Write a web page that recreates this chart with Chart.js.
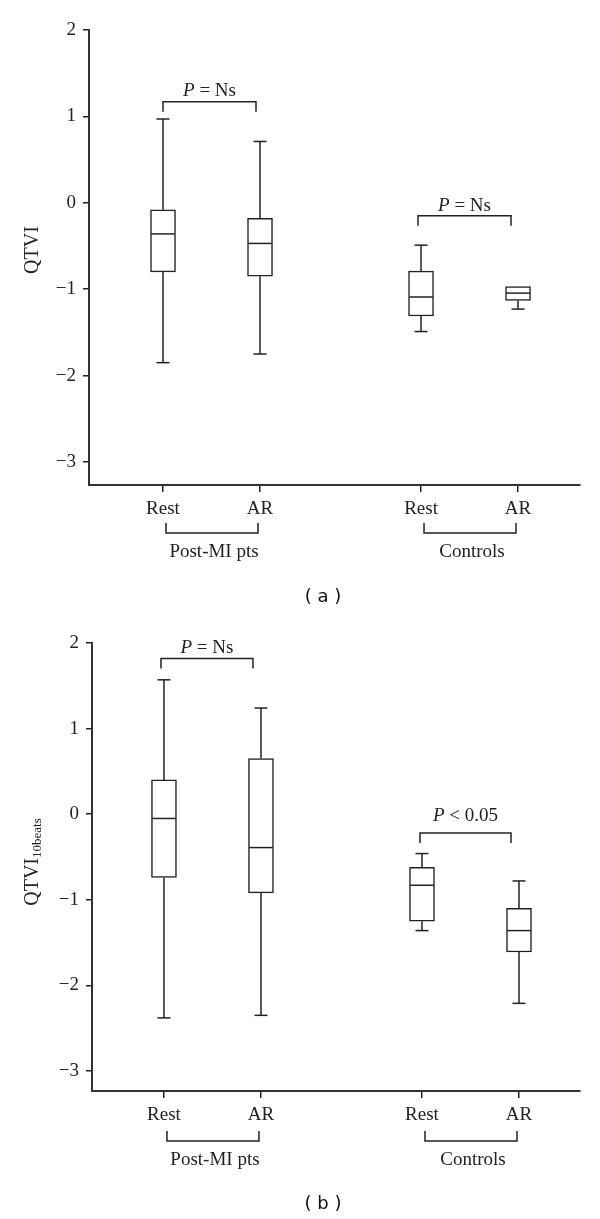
<!DOCTYPE html>
<html><head><meta charset="utf-8">
<script src="https://cdn.jsdelivr.net/npm/chart.js@4"></script>
<style>
html,body{margin:0;padding:0;background:#fff;width:600px;height:1219px;overflow:hidden}
canvas{position:absolute;left:0}
#ca{top:0}
#cb{top:610px}
</style></head><body>
<canvas id="ca" width="600" height="610"></canvas>
<canvas id="cb" width="600" height="609"></canvas>
<script>
// ---------- data ----------
const categories = ['Rest', 'AR', 'Rest', 'AR'];
const groups = ['Post-MI pts', 'Controls'];
const yTicks = [-3, -2, -1, 0, 1, 2];

// (a) QTVI
const qtviMin = [-1.85, -1.75, -1.49, -1.23];
const qtviQ1  = [-0.80, -0.85, -1.31, -1.13];
const qtviMed = [-0.36, -0.47, -1.09, -1.045];
const qtviQ3  = [-0.08, -0.18, -0.79, -0.97];
const qtviMax = [0.97, 0.71, -0.49, -0.97];

// (b) QTVI 10 beats
const qtvi10Min = [-2.38, -2.35, -1.36, -2.21];
const qtvi10Q1  = [-0.74, -0.92, -1.25, -1.61];
const qtvi10Med = [-0.05, -0.39, -0.83, -1.36];
const qtvi10Q3  = [0.40, 0.65, -0.62, -1.10];
const qtvi10Max = [1.57, 1.24, -0.46, -0.78];

const pTextA = ['= Ns', '= Ns'];
const pTextB = ['= Ns', '< 0.05'];
const panelLabels = ['( a )', '( b )'];

// ---------- layout / style ----------
const INK = '#222';
const SERIF = '"Liberation Serif", "Times New Roman", serif';
const GROUP_GAP = 0.66;
const xPos = i => i + 1 + (i >= 2 ? GROUP_GAP : 0);

function line(ctx, pts) {
  ctx.beginPath();
  ctx.moveTo(pts[0][0], pts[0][1]);
  for (let k = 1; k < pts.length; k++) ctx.lineTo(pts[k][0], pts[k][1]);
  ctx.stroke();
}

const extras = {
  id: 'extras',
  afterDatasetsDraw(chart, args, o) {
    const ctx = chart.ctx, xs = chart.scales.x, ys = chart.scales.y;
    const meta = chart.getDatasetMeta(0);
    ctx.save();
    ctx.strokeStyle = INK; ctx.lineWidth = 1.5; ctx.lineCap = 'butt';
    o.stats.min.forEach((mn, i) => {
      const px = xs.getPixelForValue(xPos(i));
      const half = meta.data[i].width / 2;
      const yMin = ys.getPixelForValue(mn), yMax = ys.getPixelForValue(o.stats.max[i]);
      const yQ1 = ys.getPixelForValue(o.stats.q1[i]), yQ3 = ys.getPixelForValue(o.stats.q3[i]);
      const yMed = ys.getPixelForValue(o.stats.med[i]);
      if (o.stats.max[i] > o.stats.q3[i]) {
        line(ctx, [[px, yQ3], [px, yMax]]);
        line(ctx, [[px - 6.5, yMax], [px + 6.5, yMax]]);
      }
      if (mn < o.stats.q1[i]) {
        line(ctx, [[px, yQ1], [px, yMin]]);
        line(ctx, [[px - 6.5, yMin], [px + 6.5, yMin]]);
      }
      line(ctx, [[px - half + 0.7, yMed], [px + half - 0.7, yMed]]);
    });
    ctx.restore();
  },
  afterDraw(chart, args, o) {
    const ctx = chart.ctx, xs = chart.scales.x, ys = chart.scales.y, ca = chart.chartArea;
    ctx.save();
    ctx.strokeStyle = INK; ctx.fillStyle = INK; ctx.lineWidth = 1.5;
    ctx.textBaseline = 'alphabetic';
    // significance brackets
    o.brackets.forEach(b => {
      const x1 = xs.getPixelForValue(xPos(b.from)) + b.dx1;
      const x2 = xs.getPixelForValue(xPos(b.to)) + b.dx2;
      const yy = ys.getPixelForValue(b.y);
      line(ctx, [[x1, yy + 10], [x1, yy], [x2, yy], [x2, yy + 10]]);
      const fontI = 'italic 19px ' + SERIF, fontR = '19px ' + SERIF;
      ctx.font = fontI; const wP = ctx.measureText('P').width;
      ctx.font = fontR; const wR = ctx.measureText(' ' + b.text).width;
      let sx = (x1 + x2) / 2 - (wP + wR) / 2;
      const base = yy - b.gap + 6.3;
      ctx.textAlign = 'left';
      ctx.font = fontI; ctx.fillText('P', sx, base);
      ctx.font = fontR; ctx.fillText(' ' + b.text, sx + wP, base);
    });
    // group brackets under axis
    [[0, 1], [2, 3]].forEach((pair, g) => {
      const x1 = xs.getPixelForValue(xPos(pair[0])) + 3;
      const x2 = xs.getPixelForValue(xPos(pair[1])) - 2;
      const yy = ca.bottom + o.groupY;
      line(ctx, [[x1, yy - 10], [x1, yy], [x2, yy], [x2, yy - 10]]);
      ctx.font = '19px ' + SERIF; ctx.textAlign = 'center';
      ctx.fillText(groups[g], (x1 + x2) / 2 + 2, ca.bottom + o.groupY + 18 + 6.3);
    });
    // y title
    ctx.save();
    ctx.translate(o.titleX, o.titleY);
    ctx.rotate(-Math.PI / 2);
    ctx.font = '20px ' + SERIF;
    const wMain = ctx.measureText(o.title).width;
    let wSub = 0;
    if (o.sub) { ctx.font = '13px ' + SERIF; wSub = ctx.measureText(o.sub).width; }
    const start = -(wMain + wSub) / 2;
    ctx.textAlign = 'left';
    ctx.font = '20px ' + SERIF; ctx.fillText(o.title, start, 6.6);
    if (o.sub) { ctx.font = '13px ' + SERIF; ctx.fillText(o.sub, start + wMain, 9.5); }
    ctx.restore();
    // panel label
    ctx.font = '18px "DejaVu Sans", sans-serif'; ctx.textAlign = 'center'; ctx.textBaseline = 'middle';
    ctx.fillStyle = '#111';
    ctx.fillText(o.panel, o.panelX, o.panelY);
    ctx.restore();
  }
};

function makeChart(id, cfg) {
  const s = cfg.stats;
  new Chart(document.getElementById(id), {
    type: 'bar',
    data: {
      datasets: [{
        data: s.min.map((_, i) => ({ x: xPos(i), y: [s.q1[i], s.q3[i]] })),
        backgroundColor: '#fff', borderColor: INK, borderWidth: 1.5,
        borderSkipped: false, barThickness: 25
      }]
    },
    options: {
      responsive: false, animation: false, devicePixelRatio: 1,
      layout: { padding: { left: 0, right: 20, top: cfg.top, bottom: 0 } },
      plugins: { legend: { display: false }, tooltip: { enabled: false }, extras: cfg },
      scales: {
        x: {
          type: 'linear', min: cfg.xMin, max: cfg.xMax, offset: false,
          afterBuildTicks: a => { a.ticks = categories.map((_, i) => ({ value: xPos(i) })); },
          afterFit: a => { a.height = cfg.xHeight; },
          ticks: { callback: (v, i) => categories[i], color: INK, padding: 6,
                   font: { family: SERIF, size: 19 }, maxRotation: 0, autoSkip: false },
          grid: { display: true, offset: false, drawOnChartArea: false, drawTicks: true, tickLength: 7, color: INK, lineWidth: 1.5 },
          border: { display: true, color: '#333', width: 2 }
        },
        y: {
          type: 'linear', min: cfg.yMin, max: 2,
          afterBuildTicks: a => { a.ticks = yTicks.map(v => ({ value: v })); },
          afterFit: a => { a.width = cfg.yWidth; },
          ticks: { callback: v => (v < 0 ? '\u2212' + Math.abs(v) : String(v)), color: INK, padding: 7,
                   font: { family: SERIF, size: 19 } },
          grid: { display: true, offset: false, drawOnChartArea: false, drawTicks: true, tickLength: 6, color: INK, lineWidth: 1.5 },
          border: { display: true, color: '#333', width: 2 }
        }
      }
    },
    plugins: [extras]
  });
}

makeChart('ca', {
  stats: { min: qtviMin, q1: qtviQ1, med: qtviMed, q3: qtviQ3, max: qtviMax },
  top: 30, xHeight: 125, yWidth: 89, yMin: -3.266, xMin: 0.237, xMax: 5.299,
  brackets: [
    { from: 0, to: 1, y: 1.17, dx1: 0, dx2: -4, text: pTextA[0], gap: 12 },
    { from: 2, to: 3, y: -0.15, dx1: -3, dx2: -7, text: pTextA[1], gap: 11.5 }
  ],
  groupY: 48, title: 'QTVI', sub: '', titleX: 31.5, titleY: 250,
  panel: panelLabels[0], panelX: 323, panelY: 597
});

makeChart('cb', {
  stats: { min: qtvi10Min, q1: qtvi10Q1, med: qtvi10Med, q3: qtvi10Q3, max: qtvi10Max },
  top: 33, xHeight: 128, yWidth: 92, yMin: -3.234, xMin: 0.258, xMax: 5.289,
  brackets: [
    { from: 0, to: 1, y: 1.82, dx1: -3, dx2: -8, text: pTextB[0], gap: 12 },
    { from: 2, to: 3, y: -0.22, dx1: -2, dx2: -8, text: pTextB[1], gap: 18 }
  ],
  groupY: 50, title: 'QTVI', sub: '10beats', titleX: 31.5, titleY: 252,
  panel: panelLabels[1], panelX: 323, panelY: 594
});
</script>
</body></html>
